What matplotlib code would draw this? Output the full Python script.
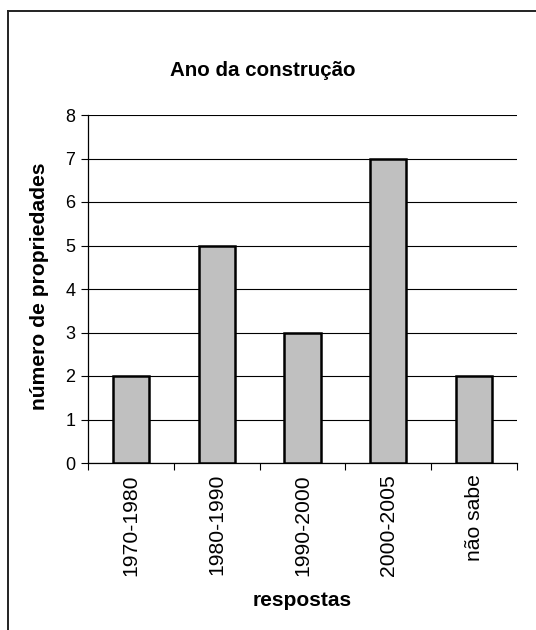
import matplotlib
matplotlib.use("Agg")
import matplotlib.pyplot as plt
from matplotlib.lines import Line2D

plt.rcParams['font.family'] = ['Liberation Sans', 'DejaVu Sans']

categories = ["1970-1980", "1980-1990", "1990-2000", "2000-2005", "não sabe"]
counts = [2, 5, 3, 7, 2]
y_ticks = [0, 1, 2, 3, 4, 5, 6, 7, 8]

W, H = 536, 630
fig = plt.figure(figsize=(W / 100, H / 100), dpi=100)

# chart area frame (extends beyond the right and bottom edges)
fx, fy = 7.5 / W, 1 - 10.5 / H
fig.add_artist(Line2D([fx, fx], [0, fy], transform=fig.transFigure, color="#222222", lw=1.4))
fig.add_artist(Line2D([fx, 1], [fy, fy], transform=fig.transFigure, color="#222222", lw=1.4))

left, right = 88 / W, 517 / W
top, bottom = 1 - 115 / H, 1 - 463 / H
ax = fig.add_axes([left, bottom, right - left, top - bottom])

x = list(range(len(categories)))
ax.bar(x, counts, width=0.42, color="#c0c0c0", edgecolor="black", linewidth=1.8, zorder=3)

ax.set_xlim(-0.5, len(categories) - 0.5)
ax.set_ylim(0, 8)
ax.set_yticks(y_ticks)
ax.yaxis.grid(True, color="black", linewidth=0.8, zorder=0)
ax.set_axisbelow(True)

# category boundaries carry the tick marks; labels sit at bar centres
ax.set_xticks([i - 0.5 for i in range(len(categories) + 1)])
ax.set_xticklabels([])
ax.set_xticks(x, minor=True)
ax.set_xticklabels(categories, minor=True, rotation=90, fontsize=15.2)
ax.tick_params(axis='x', which='minor', length=0, pad=8)
ax.tick_params(axis='x', which='major', length=5, width=0.8, direction='out')
ax.tick_params(axis='y', length=5, width=0.8, direction='out', labelsize=13, pad=4)

for s in ["top", "right"]:
    ax.spines[s].set_visible(False)
ax.spines["left"].set_linewidth(0.9)
ax.spines["bottom"].set_linewidth(0.9)

fig.text(263 / W, 1 - 71 / H, "Ano da construção", ha="center", va="center",
         fontsize=14.8, fontweight="bold")
fig.text(302 / W, 1 - 600 / H, "respostas", ha="center", va="center",
         fontsize=15, fontweight="bold")
fig.text(40 / W, 1 - 286 / H, "número de propriedades", ha="center", va="center",
         rotation=90, fontsize=15.2, fontweight="bold")

fig.savefig("out.png", dpi=100, facecolor="white")
